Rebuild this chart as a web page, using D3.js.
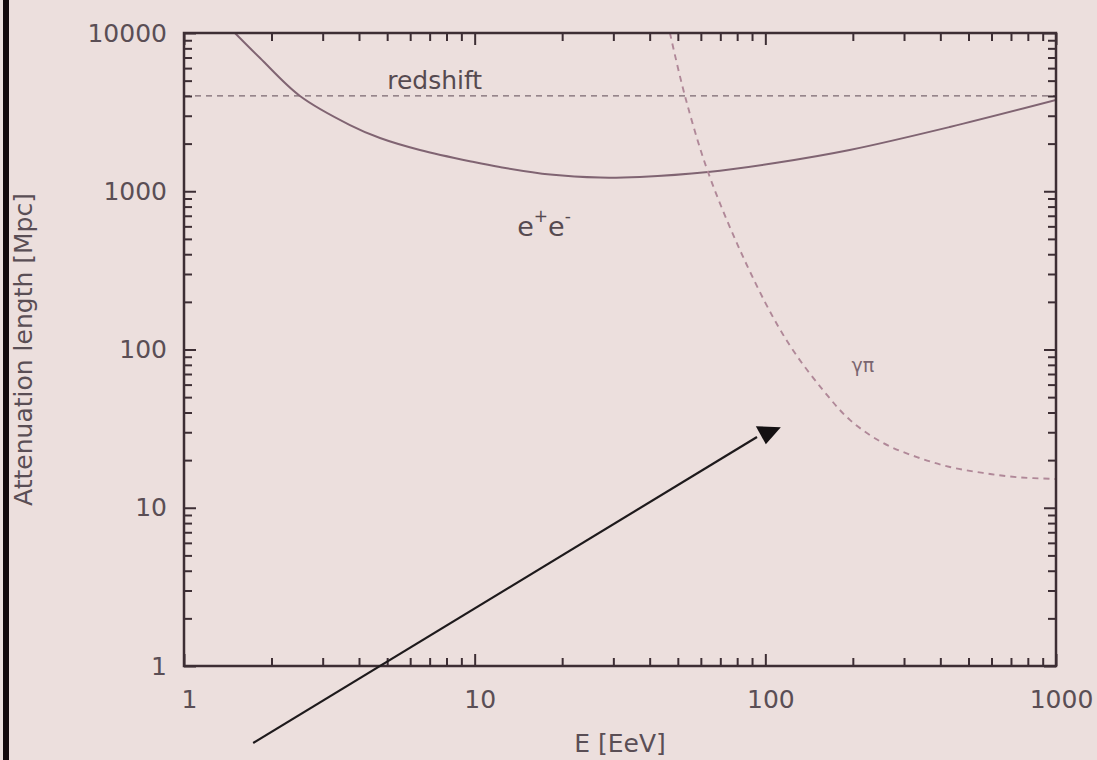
<!DOCTYPE html>
<html>
<head>
<meta charset="utf-8">
<script src="https://cdn.jsdelivr.net/npm/d3@7"></script>
<style>
  html, body { margin: 0; padding: 0; background: #ecdfdd; }
  svg { display: block; }
  text { font-family: "DejaVu Sans", sans-serif; }
</style>
</head>
<body>
<svg id="chart" width="1097" height="760"></svg>
<script>
// Energy loss lengths of ultra-high-energy protons in the CMB

// Pair production (e+e-) loss length
const eeEnergy = [1.497, 1.826, 2.506, 3.724, 4.724, 6.48, 9.94, 12.2, 18.2, 27.0, 37.0, 63.5, 108, 195, 431, 1000];
const eeLength = [10000, 6950, 4000, 2621, 2170, 1823, 1530, 1423, 1275, 1220, 1232, 1323, 1508, 1823, 2547, 3773];

// Photo-pion production (γπ) loss length
const gpEnergy = [46.97, 52.9, 63.5, 81.8, 106.2, 126.4, 157.8, 195.4, 253.8, 332.3, 431.5, 560.5, 733.6, 1000];
const gpLength = [10000, 4000, 1323, 425, 160.5, 95, 55.5, 35.9, 25.7, 20.9, 18.1, 16.6, 15.6, 15.2];

// Adiabatic (redshift) loss length
const redshiftLength = 4000;

// Axis ticks
const xTicks = [1, 10, 100, 1000];
const yTicks = [1, 10, 100, 1000, 10000];
const xTickLabels = ["1", "10", "100", "1000"];
const yTickLabels = ["1", "10", "100", "1000", "10000"];

// Annotation arrow (data coordinates)
const arrowTail = [1.73, 0.326];
const arrowHead = [93.6, 28];
const arrowTip = [102, 30];

const svg = d3.select("#chart");
const W = 1097, H = 760;
const margin = { left: 184, top: 33, right: 41, bottom: 94 };
const x0 = margin.left, x1 = W - margin.right;
const y0 = margin.top, y1 = H - margin.bottom;

svg.append("rect").attr("width", W).attr("height", H).attr("fill", "#ecdfdd");
// dark strip on the left border
svg.append("rect").attr("x", 3).attr("y", 0).attr("width", 6).attr("height", H).attr("fill", "#140a0c");

const x = d3.scaleLog().domain([1, 1000]).range([x0, x1]);
const y = d3.scaleLog().domain([1, 10000]).range([y1, y0]);

// minor tick positions: 2..9 in each decade
function minors(lo, hi) {
  const out = [];
  for (let p = lo; p < hi; p *= 10)
    for (let m = 2; m <= 9; m++) out.push(m * p);
  return out;
}
const xMinor = minors(1, 1000);
const yMinor = minors(1, 10000);

const axisColor = "#3d2e34";
const labelColor = "#5a4e55";

svg.append("clipPath").attr("id", "plotclip")
  .append("rect").attr("x", x0).attr("y", y0).attr("width", x1 - x0).attr("height", y1 - y0);

const plot = svg.append("g").attr("clip-path", "url(#plotclip)");

// redshift line
plot.append("line")
  .attr("x1", x(1)).attr("x2", x(1000))
  .attr("y1", y(redshiftLength)).attr("y2", y(redshiftLength))
  .attr("stroke", "#7a6870").attr("stroke-width", 1.3)
  .attr("stroke-dasharray", "6,5");

const line = d3.line().curve(d3.curveCatmullRom.alpha(0.5));

plot.append("path")
  .attr("d", line(eeEnergy.map((e, i) => [x(e), y(eeLength[i])])))
  .attr("fill", "none").attr("stroke", "#806472").attr("stroke-width", 2);

plot.append("path")
  .attr("d", line(gpEnergy.map((e, i) => [x(e), y(gpLength[i])])))
  .attr("fill", "none").attr("stroke", "#b08898").attr("stroke-width", 1.9)
  .attr("stroke-dasharray", "6,5");

// axes with inward ticks on all four sides
function styleAxis(g) {
  g.select(".domain").remove();
  g.selectAll(".tick line").attr("stroke", axisColor).attr("stroke-width", 2);
  g.selectAll(".tick text").attr("fill", labelColor).attr("font-size", 25)
    .attr("font-family", "DejaVu Sans, sans-serif");
}

const gl = svg.append("g").attr("transform", `translate(${x0},0)`)
  .call(d3.axisLeft(y).tickValues(yTicks).tickSize(-12).tickPadding(17)
    .tickFormat((d, i) => yTickLabels[i]));
styleAxis(gl);
const glm = svg.append("g").attr("transform", `translate(${x0},0)`)
  .call(d3.axisLeft(y).tickValues(yMinor).tickSize(-8).tickFormat(""));
styleAxis(glm);

const gr = svg.append("g").attr("transform", `translate(${x1},0)`)
  .call(d3.axisRight(y).tickValues(yTicks).tickSize(-12).tickFormat(""));
styleAxis(gr);
const grm = svg.append("g").attr("transform", `translate(${x1},0)`)
  .call(d3.axisRight(y).tickValues(yMinor).tickSize(-8).tickFormat(""));
styleAxis(grm);

const gb = svg.append("g").attr("transform", `translate(0,${y1})`)
  .call(d3.axisBottom(x).tickValues(xTicks).tickSize(-12).tickPadding(24)
    .tickFormat((d, i) => xTickLabels[i]));
styleAxis(gb);
gb.selectAll(".tick text").attr("dx", 5);
const gbm = svg.append("g").attr("transform", `translate(0,${y1})`)
  .call(d3.axisBottom(x).tickValues(xMinor).tickSize(-8).tickFormat(""));
styleAxis(gbm);

const gt = svg.append("g").attr("transform", `translate(0,${y0})`)
  .call(d3.axisTop(x).tickValues(xTicks).tickSize(-12).tickFormat(""));
styleAxis(gt);
const gtm = svg.append("g").attr("transform", `translate(0,${y0})`)
  .call(d3.axisTop(x).tickValues(xMinor).tickSize(-8).tickFormat(""));
styleAxis(gtm);

// frame
svg.append("rect")
  .attr("x", x0).attr("y", y0).attr("width", x1 - x0).attr("height", y1 - y0)
  .attr("fill", "none").attr("stroke", axisColor).attr("stroke-width", 2.5);

// axis titles
svg.append("text")
  .attr("x", (x0 + x1) / 2).attr("y", 752)
  .attr("text-anchor", "middle").attr("font-size", 25).attr("fill", labelColor)
  .text("E [EeV]");

svg.append("text")
  .attr("transform", `translate(32,${(y0 + y1) / 2}) rotate(-90)`)
  .attr("text-anchor", "middle").attr("font-size", 25).attr("fill", labelColor)
  .text("Attenuation length [Mpc]");

// curve labels
svg.append("text")
  .attr("x", x(5.0)).attr("y", y(4430))
  .attr("font-size", 25).attr("fill", "#564a50")
  .text("redshift");

const ee = svg.append("text")
  .attr("x", x(14.0)).attr("y", y(525))
  .attr("font-size", 27).attr("fill", "#564a50");
ee.append("tspan").text("e");
ee.append("tspan").attr("font-size", 17).attr("dy", -14).text("+");
ee.append("tspan").attr("dy", 14).text("e");
ee.append("tspan").attr("font-size", 17).attr("dy", -14).text("-");

svg.append("text")
  .attr("x", x(198)).attr("y", y(72))
  .attr("font-size", 19).attr("fill", "#7a6670")
  .text("γπ");

// annotation arrow
svg.append("line")
  .attr("x1", x(arrowTail[0])).attr("y1", y(arrowTail[1]))
  .attr("x2", x(arrowHead[0])).attr("y2", y(arrowHead[1]))
  .attr("stroke", "#1e1a1c").attr("stroke-width", 2.2);

const hx = x(arrowTip[0]), hy = y(arrowTip[1]);
svg.append("path")
  .attr("d", `M${hx - 12},${hy - 6} L${hx + 13},${hy - 5} L${hx - 2},${hy + 12} Z`)
  .attr("fill", "#141012");
</script>
</body>
</html>
